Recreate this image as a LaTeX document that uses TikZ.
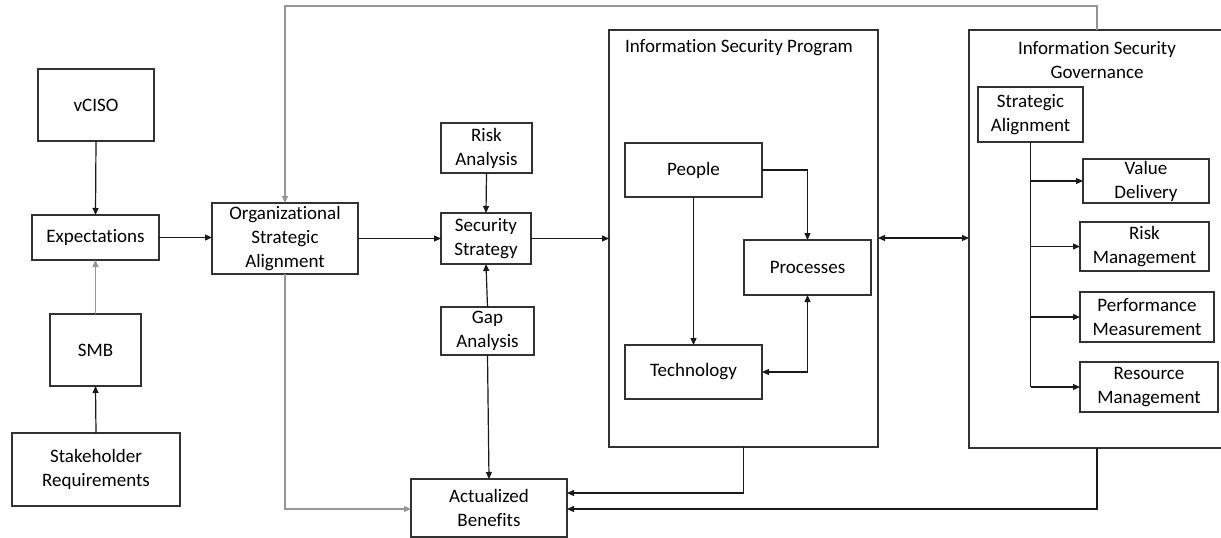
\documentclass[tikz,border=0pt]{standalone}
\usepackage{fontspec}
\setmainfont{Carlito}[Ligatures=NoCommon]
\usetikzlibrary{arrows.meta,calc}
\definecolor{lgray}{RGB}{150,150,150}
\definecolor{boxc}{RGB}{50,50,50}
\begin{document}
\begin{tikzpicture}[x=1pt,y=-1pt,
  every node/.style={font=\fontsize{19}{24}\selectfont, text=black, inner sep=0pt, outer sep=0pt},
  blk/.style={draw=boxc, line width=1.2pt, align=center},
  frame/.style={draw=boxc, line width=1.2pt},
  conn/.style={draw=black!90, line width=1.2pt, -{Triangle[length=7pt,width=6pt]}},
  dconn/.style={draw=black!90, line width=1.2pt, {Triangle[length=7pt,width=6pt]}-{Triangle[length=7pt,width=6pt]}},
  gconn/.style={draw=lgray, line width=1.2pt, -{Triangle[length=7pt,width=6pt]}},
  gline/.style={draw=lgray, line width=1.2pt}]
\useasboundingbox (0,0) rectangle (1221,538);
\clip (0,0) rectangle (1221,538);
\fill[white] (0,0) rectangle (1221,538);

% left column
\node[blk, minimum width=116pt, minimum height=72pt] (vciso) at (96,105) {vCISO};
\node[blk, minimum width=127pt, minimum height=45pt] (exp) at (95.5,237.5) {Expectations};
\node[blk, minimum width=91pt, minimum height=72pt] (smb) at (95.5,350) {SMB};
\node[blk, minimum width=168pt, minimum height=73pt] (stake) at (96,469.5) {Stakeholder\\Requirements};
\node[blk, minimum width=146pt, minimum height=71pt] (org) at (285,238.5) {Organizational\\Strategic\\Alignment};

% middle column
\node[blk, minimum width=91pt, minimum height=50pt] (risk) at (486.5,148) {Risk\\Analysis};
\node[blk, minimum width=90pt, minimum height=51pt] (ss) at (486,238.5) {Security\\Strategy};
\node[blk, minimum width=93pt, minimum height=48pt] (gap) at (487.5,331) {Gap\\Analysis};
\node[blk, minimum width=156pt, minimum height=58pt] (act) at (489,508) {Actualized\\Benefits};

% ISP frame
\node[frame, minimum width=269pt, minimum height=417pt] (isp) at (743.5,238.5) {};
\node[anchor=west] (isptitle) at (625,48) {Information Security Program};
\node[blk, minimum width=137pt, minimum height=54pt] (people) at (693.5,170) {People};
\node[blk, minimum width=127pt, minimum height=55pt] (proc) at (807.5,267.5) {Processes};
\node[blk, minimum width=137pt, minimum height=54pt] (tech) at (693.5,372) {Technology};

% Governance frame
\node[frame, minimum width=256pt, minimum height=418pt] (gov) at (1097,239) {};
\node[align=center] (govtitle) at (1097,60) {Information Security\\Governance};
\node[blk, minimum width=105pt, minimum height=55pt] (sa) at (1030.5,114.5) {Strategic\\Alignment};
\node[blk, minimum width=126pt, minimum height=44pt] (vd) at (1146,181) {Value\\Delivery};
\node[blk, minimum width=129pt, minimum height=49pt] (rm) at (1144.5,246.5) {Risk\\Management};
\node[blk, minimum width=134pt, minimum height=50pt] (pm) at (1147,317) {Performance\\Measurement};
\node[blk, minimum width=138pt, minimum height=50pt] (resm) at (1149,387) {Resource\\Management};

% connectors left
\draw[conn] (vciso.south) -- (exp.north);
\draw[gconn] (smb.north) -- (exp.south);
\draw[conn] (stake.north) -- (smb.south);
\draw[conn] (exp.east) -- (org.west |- exp.east);
\draw[conn] (org.east) -- (ss.west);
\draw[conn] (risk.south) -- (ss.north);
\draw[conn] (gap.north) -- (ss.south);
\draw[conn] (gap.south) -- (act.north);
\draw[conn] (ss.east) -- (isp.west |- ss.east);

% gray loops
\coordinate (topr) at (1097,6);
\draw[gconn] (gov.north) -- (topr) -| (org.north);
\draw[gconn] (org.south) |- ([yshift=-1pt]act.west);

% ISP internals
\draw[conn] (people.east) -| (proc.north);
\draw[conn] (people.south) -- (tech.north);
\draw[dconn] (tech.east) -| (proc.south);

% to actualized
\draw[conn] (isp.south) |- ([yshift=15pt]act.east);
\draw[conn] (gov.south) |- ([yshift=-1pt]act.east);

% ISP <-> Gov
\draw[dconn] (isp.east |- 0,238) -- (gov.west |- 0,238);

% governance tree
\coordinate (trunkend) at (sa.south |- resm.west);
\draw[line width=1.2pt, draw=black!90] (sa.south) -- (trunkend);
\draw[conn] (sa.south |- vd.west) -- (vd.west);
\draw[conn] (sa.south |- rm.west) -- (rm.west);
\draw[conn] (sa.south |- pm.west) -- (pm.west);
\draw[conn] (trunkend) -- (resm.west);
\end{tikzpicture}
\end{document}
